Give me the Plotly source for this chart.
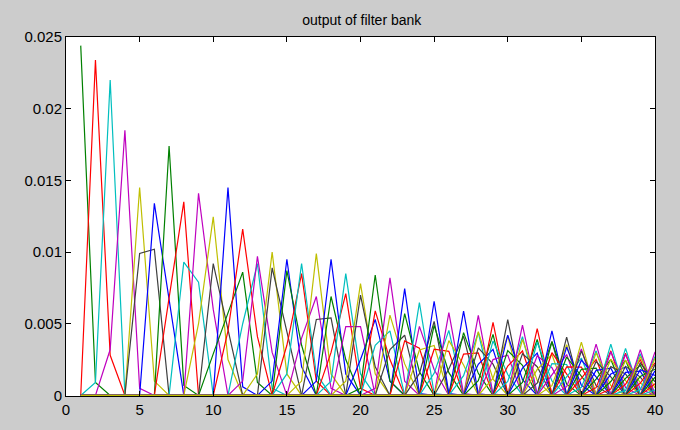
import plotly.graph_objects as go

# Filter index (x axis): 1..40
filter_index = list(range(1, 41))

# Each curve = one FFT bin: (first filter index with a listed value, values in units of 1e-3)
bins_low = [
    (1, []),
    (1, [24.4, 0.9]),
    (2, [23.4, 2.8]),
    (2, [0.9, 22.0]),
    (3, [3.2, 18.5, 0.5]),
    (5, [14.5, 1.0]),
    (5, [9.9, 10.2]),
    (6, [13.4, 6.7]),
    (7, [17.4, 0.7]),
    (7, [6.8, 13.5]),
    (8, [9.3, 7.9]),
    (9, [14.1, 6.0]),
    (9, [5.0, 12.45, 2.5]),
    (10, [9.2, 4.6]),
    (11, [14.5, 0.6]),
    (10, [2.9, 5.7, 8.6, 0.9]),
    (11, [4.5, 11.6, 4.1]),
    (12, [5.0, 9.2, 0.5]),
    (12, [1.0, 9.7, 3.0]),
    (13, [1.5, 10.0, 1.5]),
    (14, [8.9, 4.5]),
    (14, [1.0, 9.5, 2.0]),
    (15, [8.7, 3.5]),
    (15, [3.5, 8.5, 1.0]),
    (15, [1.5, 9.2, 1.5]),
    (16, [4.0, 6.9, 0.5]),
    (16, [1.0, 9.9, 1.5]),
    (17, [5.3, 5.4]),
    (17, [1.0, 9.5, 1.5]),
    (18, [6.9, 2.5]),
    (18, [3.0, 7.1, 0.5]),
    (18, [1.0, 8.5, 1.5]),
    (19, [4.8, 4.8]),
    (19, [1.0, 7.8, 1.5]),
    (20, [7.0, 2.0]),
    (20, [2.5, 5.3, 1.0]),
    (20, [0.5, 8.4, 1.0]),
    (21, [5.9, 2.5]),
    (21, [3.5, 4.5]),
    (21, [0.5, 8.2, 1.0]),
    (22, [5.6, 2.2]),
    (22, [3.2, 4.2]),
]

bins_high = [
    (23, [7.45, 0.13]), (23, [5.7, 1.65]), (23, [3.8, 3.3]),
    (24, [6.47, 0.13]), (24, [4.82, 1.81]), (24, [3.17, 3.48]), (24, [1.52, 5.16]),
    (25, [6.57, 0.12]), (25, [4.89, 1.59]), (25, [3.22, 3.07]), (25, [1.54, 4.54]),
    (26, [5.78, 0.12]), (26, [3.82, 2.12]), (26, [1.85, 4.12]),
    (27, [5.88, 0.11]), (27, [4.38, 1.54]), (27, [2.88, 2.96]), (27, [1.38, 4.39]),
    (28, [5.59, 0.10]), (28, [4.45, 1.14]), (28, [3.31, 2.18]), (28, [2.17, 3.22]), (28, [1.03, 4.26]),
    (29, [5.10, 0.11]), (29, [3.80, 1.46]), (29, [2.50, 2.81]), (29, [1.20, 4.16]),
    (30, [5.29, 0.10]), (30, [4.21, 1.10]), (30, [3.13, 2.10]), (30, [2.05, 3.10]), (30, [0.97, 4.10]),
    (31, [4.90, 0.10]), (31, [3.90, 1.05]), (31, [2.90, 2.00]), (31, [1.90, 2.95]), (31, [0.90, 3.90]),
    (32, [4.66, 0.09]), (32, [3.71, 1.01]), (32, [2.76, 1.93]), (32, [1.81, 2.85]), (32, [0.86, 3.77]),
    (33, [4.51, 0.08]), (33, [3.74, 0.78]), (33, [2.98, 1.46]), (33, [2.21, 2.16]), (33, [1.44, 2.85]), (33, [0.68, 3.54]),
    (34, [4.07, 0.08]), (34, [3.37, 0.71]), (34, [2.68, 1.34]), (34, [1.99, 1.98]), (34, [1.30, 2.61]), (34, [0.61, 3.24]),
    (35, [3.72, 0.07]), (35, [3.09, 0.68]), (35, [2.46, 1.29]), (35, [1.82, 1.90]), (35, [1.19, 2.51]), (35, [0.56, 3.11]),
    (36, [3.58, 0.07]), (36, [2.97, 0.68]), (36, [2.36, 1.29]), (36, [1.75, 1.90]), (36, [1.14, 2.51]), (36, [0.54, 3.11]),
    (37, [3.58, 0.07]), (37, [3.05, 0.55]), (37, [2.53, 1.03]), (37, [2.01, 1.50]), (37, [1.49, 1.98]), (37, [0.97, 2.46]), (37, [0.45, 2.94]),
    (38, [3.28, 0.07]), (38, [2.86, 0.47]), (38, [2.45, 0.88]), (38, [2.03, 1.28]), (38, [1.61, 1.69]), (38, [1.19, 2.10]), (38, [0.77, 2.50]), (38, [0.35, 2.91]),
    (39, [3.19, 0.06]), (39, [2.72, 0.51]), (39, [2.26, 0.95]), (39, [1.79, 1.39]), (39, [1.33, 1.83]), (39, [0.86, 2.28]), (39, [0.40, 2.72]),
    (40, [3.04]), (40, [2.60]), (40, [2.15]), (40, [1.71]), (40, [1.27]), (40, [0.82]), (40, [0.38]),
    (1, []), (1, []), (1, []), (1, []), (1, []), (1, []), (1, []), (1, []), (1, []),
]

title_text = "output of filter bank"
x_ticks = [0, 5, 10, 15, 20, 25, 30, 35, 40]
y_ticks = [0, 0.005, 0.01, 0.015, 0.02, 0.025]
y_tick_labels = ["0", "0.005", "0.01", "0.015", "0.02", "0.025"]

color_order = ["#0000ff", "#008000", "#ff0000", "#00bfbf", "#bf00bf", "#bfbf00", "#404040"]

fig = go.Figure()
for i, (start, vals) in enumerate(bins_low + bins_high):
    y = [0.0] * len(filter_index)
    for k, v in enumerate(vals):
        y[start - 1 + k] = v * 1e-3
    fig.add_trace(go.Scatter(
        x=filter_index, y=y, mode="lines",
        line=dict(color=color_order[i % 7], width=1.2),
        hoverinfo="skip", showlegend=False,
    ))

font_family = "Liberation Sans, Arial, Helvetica, sans-serif"
fig.update_layout(
    width=680, height=430,
    margin=dict(l=66, r=25, t=37, b=30),
    paper_bgcolor="#cccccc",
    plot_bgcolor="#ffffff",
    font=dict(family=font_family, size=14, color="#000000"),
    title=dict(text=title_text, x=0.532, xanchor="center", y=1 - 20 / 430,
               yanchor="middle", yref="container",
               font=dict(family=font_family, size=14, color="#000000")),
    xaxis=dict(range=[0, 40], tickvals=x_ticks, ticks="inside", ticklen=5,
               tickcolor="#000000", showline=True, linecolor="#000000", linewidth=1,
               mirror="ticks", showgrid=False, zeroline=False,
               tickfont=dict(size=15)),
    yaxis=dict(range=[-0.00004, 0.025], tickvals=y_ticks, ticktext=y_tick_labels,
               ticks="inside", ticklen=5, tickcolor="#000000", showline=True,
               linecolor="#000000", linewidth=1, mirror="ticks", showgrid=False,
               zeroline=False, tickfont=dict(size=15)),
)

fig.write_html("out.html")
